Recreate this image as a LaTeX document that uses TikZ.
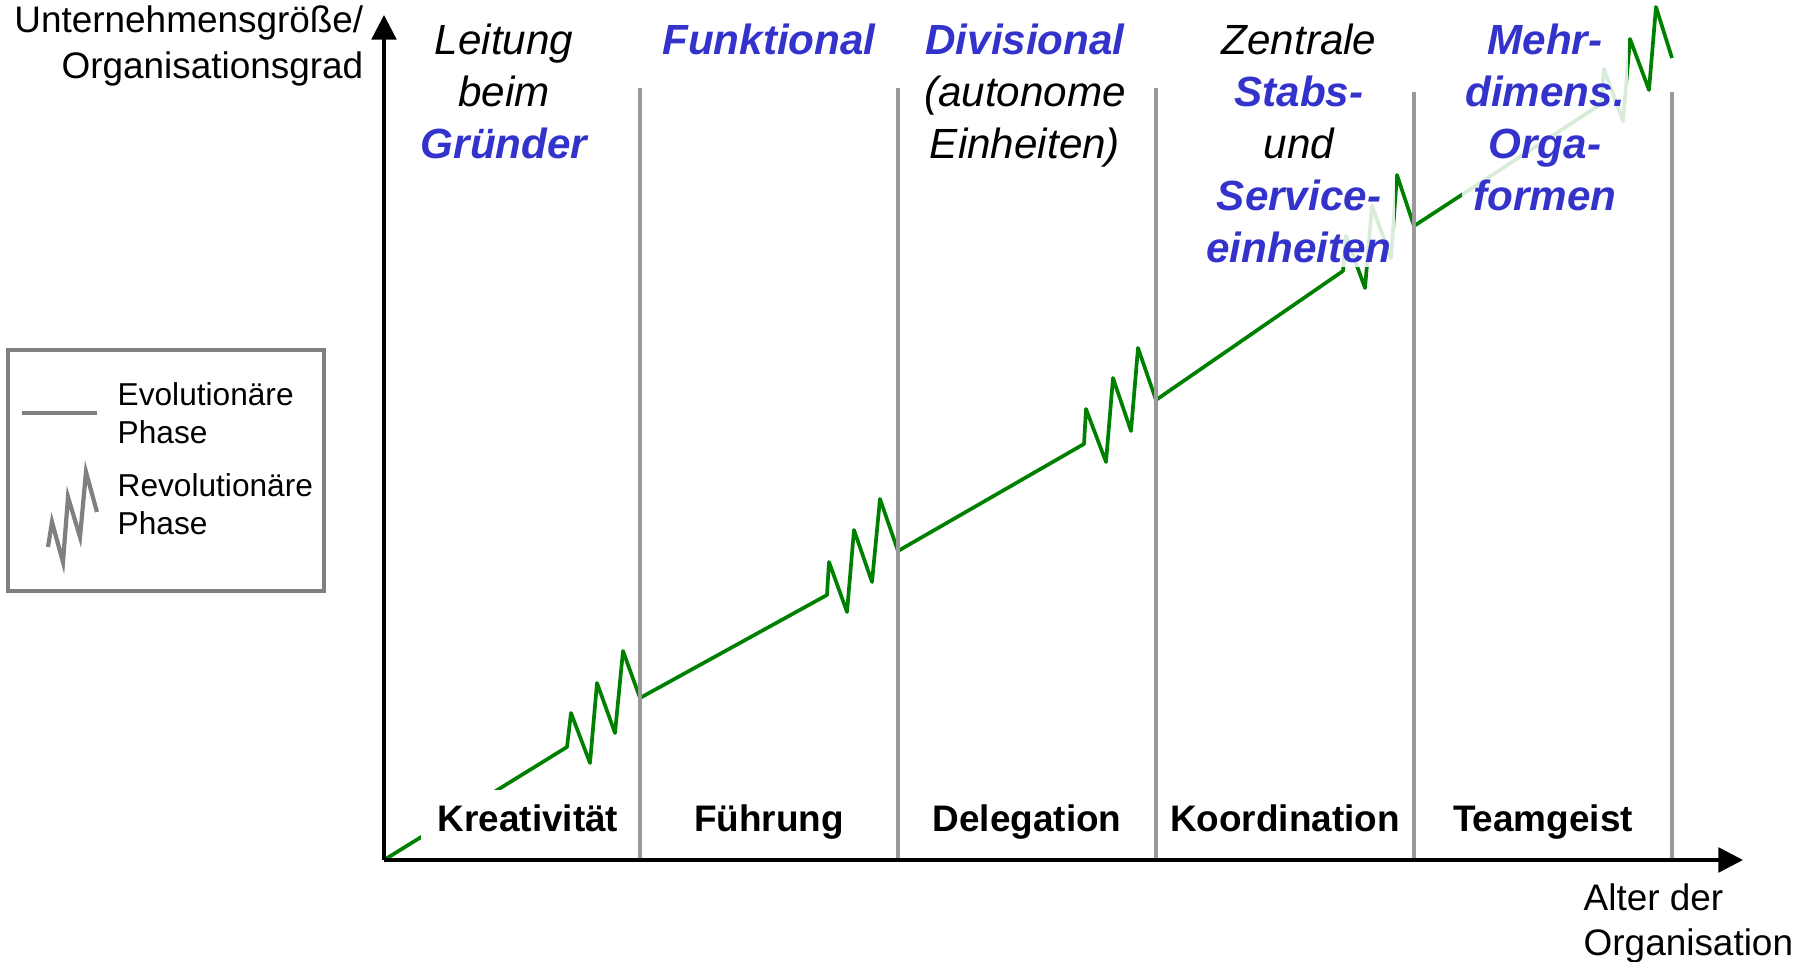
\documentclass[tikz,border=0pt]{standalone}
\usepackage{fontspec}
\setmainfont{Liberation Sans}
\usepackage{tikz}
\usetikzlibrary{arrows.meta}

\definecolor{evogreen}{RGB}{0,128,0}
\definecolor{termblue}{RGB}{51,51,204}
\definecolor{sepgray}{RGB}{153,153,153}
\definecolor{legendgray}{RGB}{128,128,128}
\newcommand{\blueterm}[1]{{\bfseries\color{termblue}#1}}

\begin{document}
\begin{tikzpicture}[x=0.01cm, y=-0.01cm,
  axis/.style={line width=1pt, -{Triangle[length=7pt,width=7pt]}},
  divider/.style={line width=0.95pt, sepgray},
  growth/.style={line width=1.05pt, evogreen, line join=round},
  crisis/.style={font=\fontsize{10.5}{12.6}\selectfont\bfseries, fill=white, inner xsep=4.8pt, inner ysep=4.4pt, anchor=base},
  phase/.style={font=\fontsize{12}{14.8}\selectfont\itshape, align=center, anchor=north, fill=white, fill opacity=0.85, text opacity=1, inner sep=1pt},
  legendtext/.style={font=\fontsize{9}{10.8}\selectfont, align=left, anchor=north west, inner sep=0pt},
  legendline/.style={line width=1.2pt, legendgray}]
\useasboundingbox (0,0) rectangle (1808,962);
\coordinate (origin) at (384,860);
\coordinate (ytip) at (384,15);
\coordinate (xtip) at (1743,860);
%
\draw[growth] (origin) -- (567,747) -- (571,713) -- (590,763) -- (597,683) -- (615,733) -- (623,651) -- (640,698)
  -- (827,595) -- (829,562) -- (847,612) -- (854,530) -- (872,582) -- (880,499) -- (898,551)
  -- (1084,444) -- (1086,409) -- (1106,462) -- (1113,378) -- (1131,431) -- (1138,348) -- (1156,400)
  -- (1343,271) -- (1346,236) -- (1365,288) -- (1372,206) -- (1391,258) -- (1397,175) -- (1414,226)
  -- (1601,104) -- (1604,69) -- (1623,121) -- (1630,39) -- (1649,90) -- (1656,7) -- (1672,58);
%
\node[crisis] (kreativ) at (528,832) {Kreativität};
\node[crisis] (fuehrung) at (769,832) {Führung};
\node[crisis] (delegation) at (1027,832) {Delegation};
\node[crisis] (koordination) at (1285,832) {Koordination};
\node[crisis] (teamgeist) at (1543,832) {Teamgeist};
%
\draw[divider] (640,88) -- (640,860);
\draw[divider] (898,88) -- (898,860);
\draw[divider] (1156,88) -- (1156,860);
\draw[divider] (1414,92) -- (1414,860);
\draw[divider] (1672,92) -- (1672,860);
%
\draw[axis] (origin) -- (ytip);
\draw[axis] (origin) -- (xtip);
\node[font=\fontsize{10.5}{13.1}\selectfont, align=right, anchor=north east, inner sep=0pt] (ylabel) at (364,5) {Unternehmensgröße/\\Organisationsgrad};
\node[font=\fontsize{10.5}{12.8}\selectfont, align=left, anchor=north west, inner sep=0pt] (xlabel) at (1583,883) {Alter der\\Organisation};
%
\node[phase] (gruender) at (504,20) {Leitung\\beim\\\blueterm{Gründer}};
\node[phase] (funktional) at (769,20) {\blueterm{Funktional}};
\node[phase] (divisional) at (1025,20) {\blueterm{Divisional}\\(autonome\\Einheiten)};
\node[phase] (zentral) at (1299,20) {Zentrale\\\blueterm{Stabs-}\\und\\\blueterm{Service-}\\\blueterm{einheiten}};
\node[phase] (mehrdim) at (1545,20) {\blueterm{Mehr-}\\\blueterm{dimens.}\\\blueterm{Orga-}\\\blueterm{formen}};
%
\draw[line width=0.9pt, legendgray] (8,350) rectangle (324,591);
\draw[legendline] (22,413) -- (97,413);
\draw[legendline] (48,547) -- (52,522) -- (63,562) -- (68,497) -- (80,537) -- (86,472) -- (97,512);
\node[legendtext] (evo) at (117,382) {Evolutionäre\\Phase};
\node[legendtext] (revo) at (117,473) {Revolutionäre\\Phase};
\end{tikzpicture}
\end{document}
